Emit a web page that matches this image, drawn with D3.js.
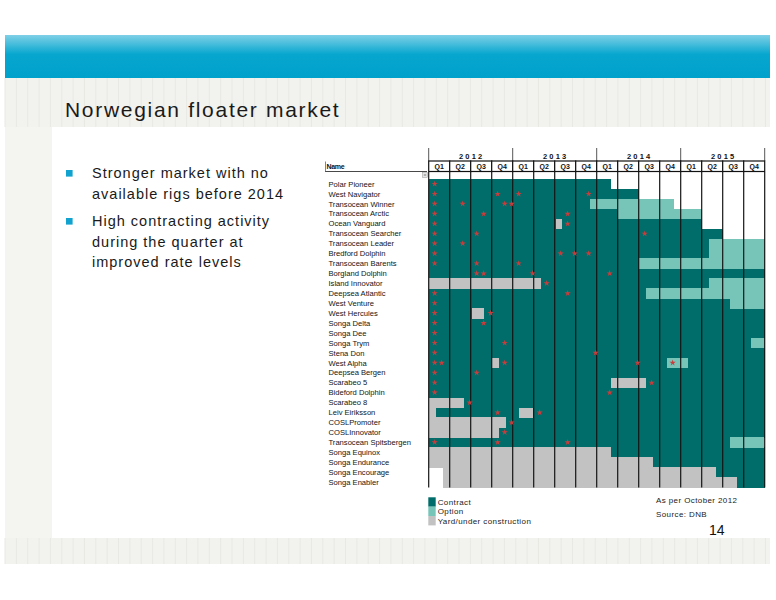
<!DOCTYPE html>
<html><head><meta charset="utf-8">
<script src="https://cdn.jsdelivr.net/npm/d3@7"></script>
<style>
html,body{margin:0;padding:0;background:#fff;}
svg text{font-family:"Liberation Sans",Arial,sans-serif;}
</style></head>
<body>
<script>
// ---------- data ----------
const years = ["2012", "2013", "2014", "2015"];
const quarters = ["Q1", "Q2", "Q3", "Q4"];
const rigs = ["Polar Pioneer","West Navigator","Transocean Winner","Transocean Arctic","Ocean Vanguard",
  "Transocean Searcher","Transocean Leader","Bredford Dolphin","Transocean Barents","Borgland Dolphin",
  "Island Innovator","Deepsea Atlantic","West Venture","West Hercules","Songa Delta","Songa Dee",
  "Songa Trym","Stena Don","West Alpha","Deepsea Bergen","Scarabeo 5","Bideford Dolphin","Scarabeo 8",
  "Leiv Eiriksson","COSLPromoter","COSLInnovator","Transocean Spitsbergen","Songa Equinox",
  "Songa Endurance","Songa Encourage","Songa Enabler"];
// periods in quarters counted from Q1 2012 (0) to end of Q4 2015 (16)
const contractPeriods = [
  [[0,8.7]],[[0,10]],[[0,7.67]],[[0,9]],[[0,13]],[[0,14]],[[0,13.33]],[[0,13.33]],[[0,10]],[[0,16]],
  [[5.33,13.33]],[[0,10.33]],[[0,14.33]],[[0,16]],[[0,16]],[[0,16]],[[0,15.33]],[[0,16]],[[0,16]],
  [[0,16]],[[0,16]],[[0,16]],[[1.67,16]],[[0.33,16]],[[3.67,16]],[[3.33,16]],[[0,14.33]],
  [[8.67,16]],[[10.67,16]],[[13.67,16]],[[14.67,16]]];
const optionPeriods = [
  [],[],[[7.67,11.7]],[[9,13.03]],[],[],[[13.33,16]],[[13.33,16]],[[10,16]],[],
  [[13.33,16]],[[10.33,16]],[[14.33,16]],[],[],[],[[15.33,16]],[],[[11.33,12.33]],
  [],[],[],[],[],[],[],[[14.33,15.97]],[],[],[],[]];
const yardPeriods = [
  [],[],[],[],[[6.05,6.33]],[],[],[],[],[],
  [[0,5.33]],[],[],[[2.05,2.65]],[],[],[],[],[[3.03,3.35]],
  [],[[8.67,10.33]],[],[[0,1.67]],[[0,0.33],[4.31,4.98]],[[0,3.67]],[[0,3.35]],[],
  [[0,8.67]],[[0,10.67]],[[0.67,13.67]],[[0.67,14.67]]];
// contract events (red marks), month index from Jan 2012
const eventMonths = [
  [0],[0,9,12,22],[0,4,10,11],[0,7,19],[0,19],[0,6,30],[0,4],[0,18,20,22],[0,6,12],[6,7,14,25],
  [16],[0,19],[0],[0,8],[0,7],[0],[0,10],[0,23],[0,1,10,29,34],[0,6],[0,31],[0,25],[5],[9,15],
  [11],[10],[0,9,19],[],[],[],[]];
const legendItems = ["Contract", "Option", "Yard/under construction"];
const bullets = [["Stronger market with no","available rigs before 2014"],
                 ["High contracting activity","during the quarter at","improved rate levels"]];

const colors = {Contract:"#006d6b", Option:"#77c5b8", Yard:"#c2c2c2"};

// ---------- page ----------
const W = 776, H = 600;
const svg = d3.select("body").append("svg").attr("width", W).attr("height", H);
const defs = svg.append("defs");
const grad = defs.append("linearGradient").attr("id","band").attr("x1",0).attr("x2",0).attr("y1",0).attr("y2",1);
grad.append("stop").attr("offset","0%").attr("stop-color","#7fd0e6");
grad.append("stop").attr("offset","45%").attr("stop-color","#06a6cf");
grad.append("stop").attr("offset","100%").attr("stop-color","#00a1cb");

// background decoration
svg.append("rect").attr("x",5).attr("y",78).attr("width",47).attr("height",460).attr("fill","#f4f4f1");
function stripeBand(y0, h) {
  svg.append("rect").attr("x",5).attr("y",y0).attr("width",765).attr("height",h).attr("fill","#f2f2ef");
  svg.append("g").selectAll("line").data(d3.range(5, 770, 11.35)).join("line")
    .attr("x1",d=>d).attr("x2",d=>d).attr("y1",y0).attr("y2",y0+h)
    .attr("stroke","#e8e8e4").attr("stroke-width",1);
}
stripeBand(78, 49);
stripeBand(538, 26);
svg.append("rect").attr("x",5).attr("y",35).attr("width",765).attr("height",43).attr("fill","url(#band)");

// title
svg.append("text").attr("x",65).attr("y",117).attr("font-size",21).attr("letter-spacing",1.7)
  .attr("fill","#1a1a1a").text("Norwegian floater market");

// bullets
const bulletTop = [170, 218];
bullets.forEach((lines, i) => {
  svg.append("rect").attr("x",66).attr("y",bulletTop[i]).attr("width",6.6).attr("height",6.6).attr("fill","#12a2cf");
  lines.forEach((t, j) => {
    svg.append("text").attr("x",92).attr("y",bulletTop[i] + 8.3 + j*20.3)
      .attr("font-size",14.5).attr("letter-spacing",1.0).attr("fill","#1a1a1a").text(t);
  });
});

// ---------- chart ----------
const x = d3.scaleLinear().domain([0, 16]).range([428.7, 764.7]);
const y = d3.scaleBand().domain(rigs).range([179, 487]);
const g = svg.append("g");

function drawPeriods(periods, color) {
  const flat = [];
  periods.forEach((ps, i) => ps.forEach(p => flat.push({rig: rigs[i], s: p[0], e: p[1]})));
  g.append("g").attr("shape-rendering","crispEdges").selectAll("rect").data(flat).join("rect")
    .attr("x", d => x(d.s)).attr("width", d => x(d.e) - x(d.s))
    .attr("y", d => y(d.rig)).attr("height", y.bandwidth() + 0.5)
    .attr("fill", color);
}
drawPeriods(contractPeriods, colors.Contract);
drawPeriods(optionPeriods, colors.Option);
drawPeriods(yardPeriods, colors.Yard);

// quarter grid lines
g.append("g").selectAll("line").data(d3.range(0, 17)).join("line")
  .attr("x1", d => x(d)).attr("x2", d => x(d)).attr("y1", 172).attr("y2", 487.5)
  .attr("stroke", "#141414").attr("stroke-width", 1.2);

// event marks
const ev = [];
eventMonths.forEach((ms, i) => ms.forEach(m => ev.push({rig: rigs[i], m})));
g.append("g").selectAll("path").data(ev).join("path")
  .attr("d", d3.symbol().type(d3.symbolStar).size(12))
  .attr("transform", d => `translate(${x((d.m + 0.85) / 3)},${y(d.rig) + y.bandwidth() / 2})`)
  .attr("fill", "#cc3b3a");

// row labels
g.append("g").selectAll("text").data(rigs).join("text")
  .attr("x", 328.5).attr("y", d => y(d) + y.bandwidth() / 2 + 2.7)
  .attr("font-size", 7.6).attr("fill", "#141414").text(d => d);

// header: years
const hdr = svg.append("g");
hdr.selectAll("line.ysep").data(d3.range(0, 17, 4)).join("line").attr("class","ysep")
  .attr("x1", d => x(d)).attr("x2", d => x(d)).attr("y1", 148).attr("y2", 161)
  .attr("stroke", "#444").attr("stroke-width", 0.9);
hdr.selectAll("text.yr").data(years).join("text").attr("class","yr")
  .attr("x", (d, i) => x(i * 4 + 2) + 1).attr("y", 158.5).attr("text-anchor","middle")
  .attr("font-size", 7.5).attr("font-weight","bold").attr("letter-spacing", 2.2).attr("fill","#111").text(d => d);
// header: quarters
const qData = [];
years.forEach((yr, yi) => quarters.forEach((q, qi) => qData.push({q, i: yi * 4 + qi})));
hdr.selectAll("rect.q").data(qData).join("rect").attr("class","q")
  .attr("x", d => x(d.i)).attr("width", x(1) - x(0)).attr("y", 161).attr("height", 10.5)
  .attr("fill", "#fff").attr("stroke", "#111").attr("stroke-width", 1.2);
hdr.selectAll("text.q").data(qData).join("text").attr("class","q")
  .attr("x", d => x(d.i + 0.5)).attr("y", 169).attr("text-anchor","middle")
  .attr("font-size", 7).attr("font-weight","bold").attr("fill","#111").text(d => d.q);
// Name cell
hdr.append("line").attr("x1",325).attr("x2",427).attr("y1",171.5).attr("y2",171.5).attr("stroke","#333").attr("stroke-width",0.9);
hdr.append("line").attr("x1",325.5).attr("x2",325.5).attr("y1",161.5).attr("y2",171.5).attr("stroke","#666").attr("stroke-width",0.8);
hdr.append("text").attr("x",326.5).attr("y",169).attr("font-size",7).attr("font-weight","bold")
  .attr("letter-spacing",-0.3).attr("fill","#111").text("Name");
hdr.append("rect").attr("x",422.5).attr("y",172.5).attr("width",5).attr("height",5)
  .attr("fill","#e6e6e6").attr("stroke","#9a9a9a").attr("stroke-width",0.5);
hdr.append("line").attr("x1",423.8).attr("x2",426.2).attr("y1",175).attr("y2",175).attr("stroke","#333").attr("stroke-width",0.6);

// legend
const legColors = [colors.Contract, colors.Option, colors.Yard];
const leg = svg.append("g");
leg.selectAll("rect").data(legendItems).join("rect")
  .attr("x", 428.3).attr("y", (d, i) => 497.3 + i * 9.35).attr("width", 7.4).attr("height", 9.4)
  .attr("fill", (d, i) => legColors[i]);
leg.selectAll("text").data(legendItems).join("text")
  .attr("x", 437.7).attr("y", (d, i) => 504.8 + i * 9.35)
  .attr("font-size", 8).attr("letter-spacing", 0.4).attr("fill","#222").text(d => d);

// notes
svg.append("text").attr("x",656).attr("y",502.8).attr("font-size",8).attr("letter-spacing",0.4).attr("fill","#222").text("As per October 2012");
svg.append("text").attr("x",656).attr("y",517).attr("font-size",8).attr("letter-spacing",0.4).attr("fill","#222").text("Source:  DNB");
svg.append("text").attr("x",709).attr("y",535).attr("font-size",14).attr("fill","#111").text("14");
</script>
</body></html>
